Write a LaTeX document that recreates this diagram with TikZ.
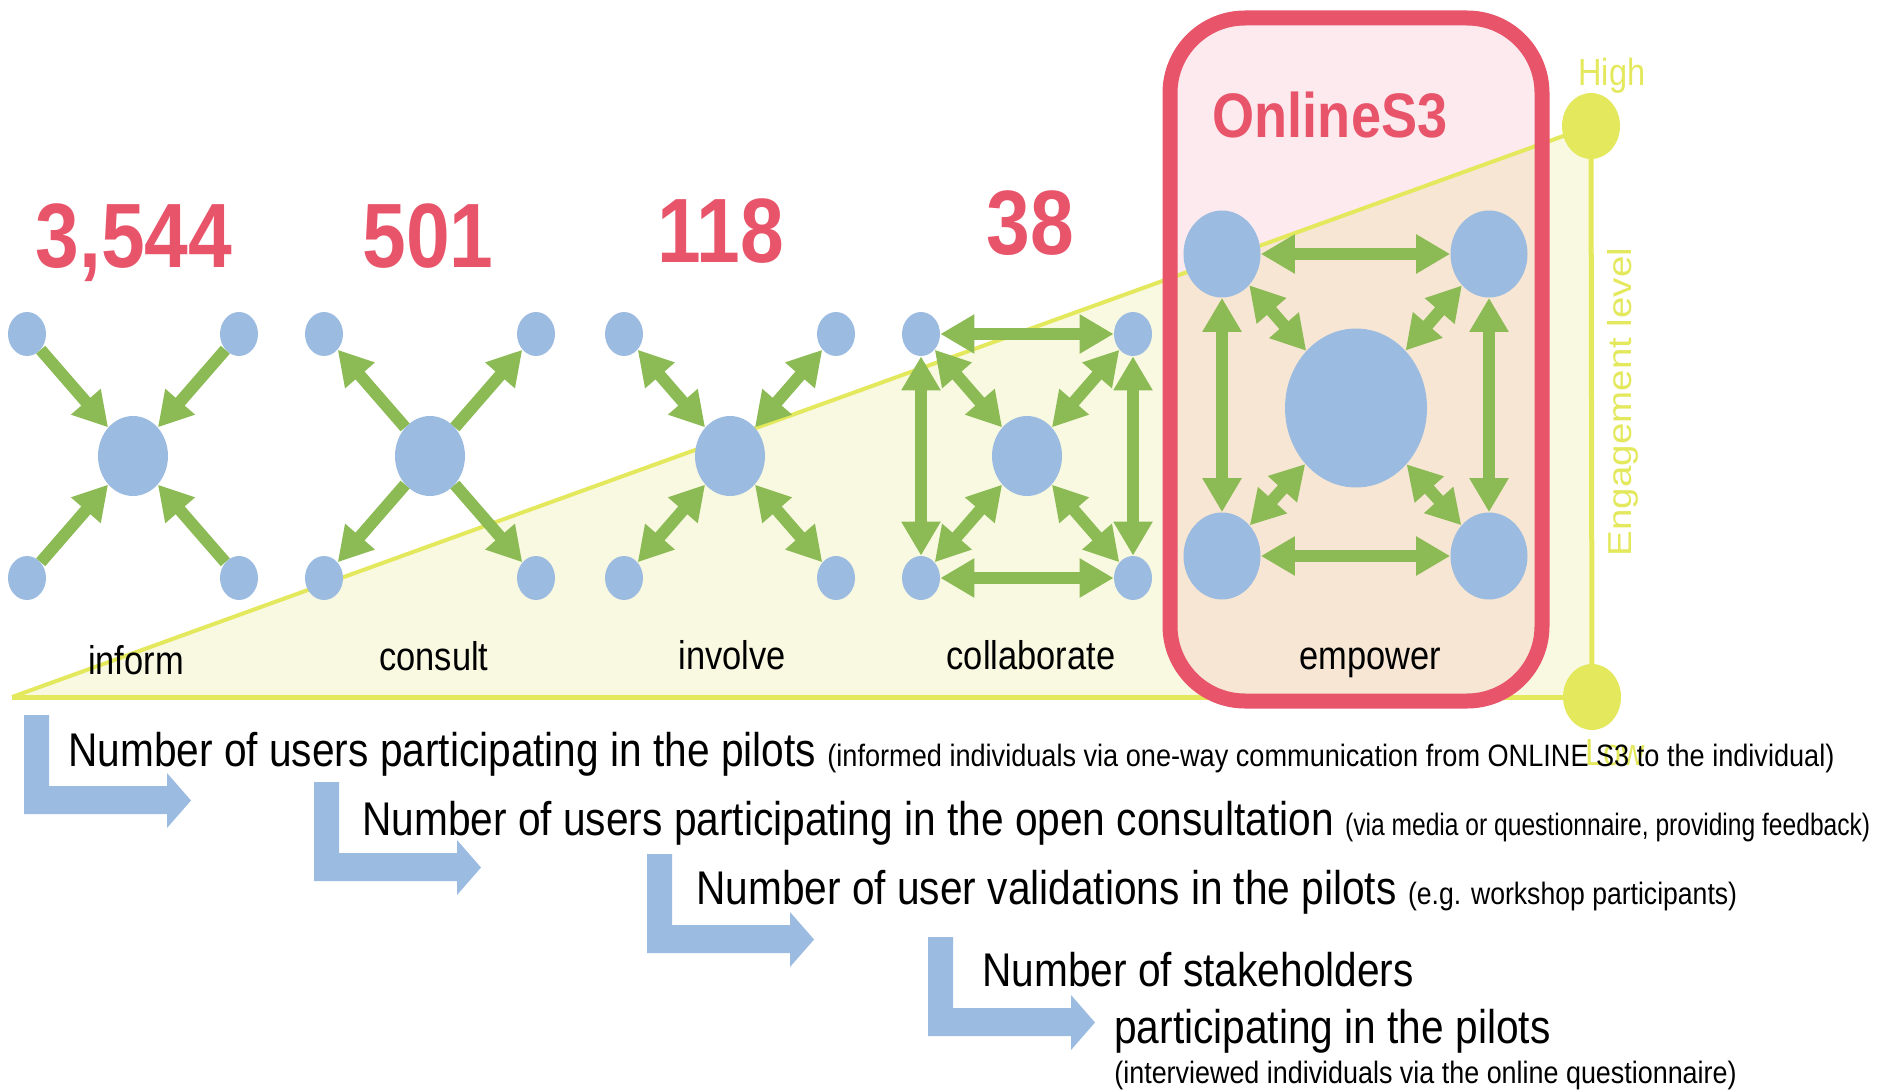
\documentclass[tikz,border=0pt]{standalone}
\usepackage{fontspec}
\setmainfont{Liberation Sans}[FakeStretch=0.86]
\newfontfamily\upfont{Liberation Sans}[FakeStretch=1.16]
\usetikzlibrary{arrows.meta,shapes.geometric}
\definecolor{nodeblue}{HTML}{9BBBE0}
\definecolor{arrgreen}{HTML}{8CBB55}
\definecolor{boxred}{HTML}{E8546A}
\definecolor{lvlyellow}{HTML}{E3E85C}
\definecolor{lvlfill}{HTML}{F8F9E0}
\definecolor{boxpink}{HTML}{FCEAEE}
\definecolor{boxpeach}{HTML}{F6E6D3}
\newcommand{\notesize}{\fontsize{17.6}{20}\selectfont}
\tikzset{
  bentarrow/.pic={\fill[nodeblue] (0,0) -- (25,0) -- (25,71) -- (143,71) -- (143,58) -- (167,85.5) -- (143,113) -- (143,99) -- (0,99) -- cycle;}
}
\begin{document}
\begin{tikzpicture}[x=0.02cm,y=-0.02cm,
  >={Triangle[length=0.68cm,width=0.74cm]},
  pt/.style={ellipse,fill=nodeblue,inner sep=0pt,minimum width=0.76cm,minimum height=0.88cm},
  hub/.style={pt,minimum width=1.4cm,minimum height=1.6cm},
  bigpt/.style={pt,minimum width=1.54cm,minimum height=1.74cm},
  bighub/.style={pt,minimum width=2.84cm,minimum height=3.18cm},
  link/.style={draw=arrgreen,line width=0.24cm},
  level/.style={ellipse,fill=lvlyellow,inner sep=0pt,minimum width=1.16cm,minimum height=1.32cm},
  count/.style={anchor=base,text=boxred,font=\fontsize{52}{56}\selectfont\bfseries,inner sep=0pt},
  stage/.style={anchor=base,font=\fontsize{22.8}{26}\selectfont,inner sep=0pt},
  metric/.style={anchor=base west,font=\fontsize{26.9}{30}\selectfont,inner sep=0pt},
  lvltext/.style={text=lvlyellow,font=\fontsize{21.5}{24}\selectfont,inner sep=0pt}]
	\useasboundingbox (0,0) rectangle (1885,1091);
	\coordinate (lo) at (12,697);
	\coordinate (hi) at (1591,126);
	\coordinate (lr) at (1592,697);
	\fill[lvlfill] (lo) -- (hi) -- (lr) -- cycle;
	\fill[boxpink, rounded corners=1.5cm] (1170,18) rectangle (1542,701);
	\begin{scope}
		\clip[rounded corners=1.5cm] (1170,18) rectangle (1542,701);
		\fill[boxpeach] (lo) -- (hi) -- (lr) -- cycle;
	\end{scope}
	\draw[lvlyellow, line width=0.08cm] (lo) -- (hi);
	\draw[lvlyellow, line width=0.1cm] (lo) -- (lr);
	\draw[lvlyellow, line width=0.1cm] (hi) -- (lr);
	\node[level] (high) at (hi) {};
	\node[level] (low) at (lr) {};
	\draw[boxred, line width=0.3cm, rounded corners=1.5cm] (1170,18) rectangle (1542,701);

	\foreach \n/\cx in {inf/133,con/430,inv/730,col/1027}{
		\node[hub] (\n) at (\cx,456) {};
		\node[pt] (\n-nw) at (\cx-106,334) {};
		\node[pt] (\n-ne) at (\cx+106,334) {};
		\node[pt] (\n-sw) at (\cx-106,578) {};
		\node[pt] (\n-se) at (\cx+106,578) {};
	}
	\node[bighub] (emp) at (1356,408) {};
	\node[bigpt] (emp-nw) at (1222,254) {};
	\node[bigpt] (emp-ne) at (1489,254) {};
	\node[bigpt] (emp-sw) at (1222,556) {};
	\node[bigpt] (emp-se) at (1489,556) {};

	\foreach \s in {nw,ne,sw,se}{
		\draw[link,->] (inf-\s) -- (inf);
		\draw[link,->] (con) -- (con-\s);
		\draw[link,<->] (inv-\s) -- (inv);
		\draw[link,<->] (col-\s) -- (col);
		\draw[link,<->] (emp-\s) -- (emp);
	}
	\foreach \n in {col,emp}{
		\draw[link,<->] (\n-nw) -- (\n-ne);
		\draw[link,<->] (\n-sw) -- (\n-se);
		\draw[link,<->] (\n-nw) -- (\n-sw);
		\draw[link,<->] (\n-ne) -- (\n-se);
	}

	\node[count] (n-inf) at (134,267) {3,544};
	\node[count] (n-con) at (428,267) {501};
	\node[count] (n-inv) at (721,262) {118};
	\node[count] (n-col) at (1030,255) {38};
	\node[anchor=base, text=boxred, font=\fontsize{35.8}{40}\selectfont\bfseries, inner sep=0pt] (s3) at (1330,138) {OnlineS3};

	\node[stage] (l-inf) at (136,674) {inform};
	\node[stage] (l-con) at (434,670) {consult};
	\node[stage] (l-inv) at (732,669) {involve};
	\node[stage] (l-col) at (1031,669) {collaborate};
	\node[stage] (l-emp) at (1370,669) {empower};

	\node[lvltext, anchor=base west] (t-high) at (1578,86) {High};
	\node[lvltext, anchor=base west] (t-low) at (1585,765) {Low};
	\node[text=lvlyellow, font=\upfont\fontsize{18.9}{22}\selectfont, rotate=90, inner sep=0pt] (t-eng) at (1623,402) {Engagement level};

	\pic at (24,715) {bentarrow};
	\pic at (314,782) {bentarrow};
	\pic at (647,854) {bentarrow};
	\pic at (928,937) {bentarrow};

	\node[metric] (m1) at (68,766) {Number of users participating in the pilots {\notesize\scalebox{1.02}[1]{(informed individuals via one-way communication from ONLINE S3 to the individual)}}};
	\node[metric] (m2) at (362,835) {Number of users participating in the open consultation {\notesize\scalebox{0.925}[1]{(via media or questionnaire, providing feedback)}}};
	\node[metric] (m3) at (696,904) {Number of user validations in the pilots {\notesize(e.g. workshop participants)}};
	\node[metric] (m4) at (982,986) {Number of stakeholders};
	\node[metric] (m4b) at (1114,1043) {participating in the pilots};
	\node[metric, font=\notesize] (m4c) at (1114,1083) {\scalebox{1.012}[1]{(interviewed individuals via the online questionnaire)}};
\end{tikzpicture}
\end{document}
